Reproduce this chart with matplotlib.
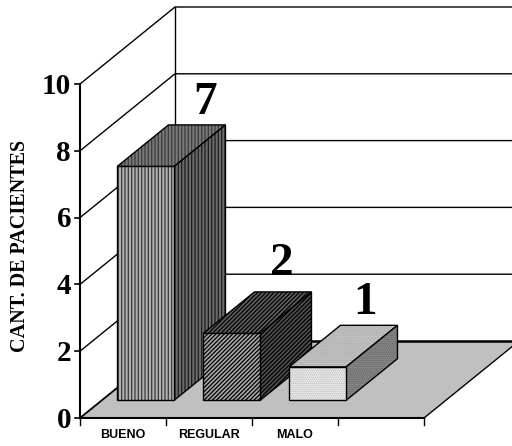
import matplotlib
matplotlib.use("Agg")
import matplotlib.pyplot as plt
from matplotlib.patches import Polygon

categories = ["BUENO", "REGULAR", "MALO", ""]
values = [7, 2, 1]
value_ticks = [0, 2, 4, 6, 8, 10]
y_title = "CANT. DE PACIENTES"

# one row per bar: front, top, side colours and hatch
face_colors = ["#b0b0b0", "#a8a8a8", "#ffffff"]
top_colors = ["#787878", "#606060", "#c8c8c8"]
side_colors = ["#6a6a6a", "#505050", "#909090"]
hatch_colors = ["#3c3c3c", "#000000", "#a8a8a8"]
side_hatch_colors = ["#1e1e1e", "#000000", "#606060"]
hatches = ["|||||", "////////", "........"]
label_x = [1.46, 2.35, 3.32]  # value label position, category units
label_y = [9.42, 4.62, 3.44]

# 3d look: depth goes up and to the right
DX = 95 / 86
DY = 77 / 33.4
BAR_W = 0.663
BAR_GAP = 0.178
D0, D1 = 0.23, 0.77


def proj(x, v, d):
    return (x + d * DX, v + d * DY)


def poly(ax, pts, fc, z, hatch=None, ec="black", lw=1.0):
    ax.add_patch(Polygon(pts, closed=True, facecolor=fc, edgecolor="none", zorder=z))
    if hatch:
        ax.add_patch(Polygon(pts, closed=True, facecolor="none", edgecolor=hatch[1],
                             hatch=hatch[0], linewidth=0, zorder=z))
    ax.add_patch(Polygon(pts, closed=True, facecolor="none", edgecolor=ec, linewidth=lw, zorder=z))


plt.rcParams["hatch.linewidth"] = 0.9
fig = plt.figure(figsize=(5.12, 4.46), dpi=100)
ax = fig.add_axes([0, 0, 1, 1])
ax.set_xlim(-80 / 86, (512 - 80) / 86)
ax.set_ylim(-(446 - 418) / 33.4, 418 / 33.4)
ax.axis("off")

n = len(categories)
top = value_ticks[-1]

# floor
poly(ax, [proj(0, 0, 0), proj(n, 0, 0), proj(n, 0, 1), proj(0, 0, 1)], "#c0c0c0", 1, ec="none", lw=0)
ax.plot(*zip(proj(n, 0, 0), proj(n, 0, 1)), color="black", lw=1.0, zorder=2)
ax.plot(*zip(proj(0, 0, 1), proj(n, 0, 1)), color="black", lw=1.8, zorder=2)
ax.plot(*zip(proj(0, 0, 0), proj(0, 0, 1)), color="black", lw=1.3, zorder=2)

# walls and grid
for v in value_ticks[1:]:
    ax.plot(*zip(proj(0, v, 0), proj(0, v, 1), proj(n, v, 1)), color="black", lw=1.0, zorder=2)
ax.plot(*zip(proj(0, 0, 1), proj(0, top, 1)), color="black", lw=1.0, zorder=2)

# front axes
ax.plot([0, 0], [0, top], color="black", lw=1.5, zorder=6)
ax.plot([0, n], [0, 0], color="black", lw=1.5, zorder=6)
for v in value_ticks:
    ax.plot([-5 / 86, 0], [v, v], color="black", lw=1.2, zorder=6)
    ax.text(-9 / 86, v - 0.07, str(v), ha="right", va="center", family="Liberation Serif",
            fontweight="bold", fontsize=21, zorder=6)
for i in range(n + 1):
    ax.plot([i, i], [0, -7 / 33.4], color="black", lw=1.0, zorder=6)
for i, c in enumerate(categories):
    ax.text(i + 0.5, -0.52, c, ha="center", va="center", family="Liberation Sans",
            fontweight="bold", fontsize=9, zorder=6)
ax.text(-60 / 86, 5.15, y_title, rotation=90, ha="center", va="center",
        family="Liberation Serif", fontweight="bold", fontsize=14.5)

# bars
for i, v in enumerate(values):
    x0 = i + BAR_GAP
    x1 = x0 + BAR_W
    z = 10 + i
    hc = hatch_colors[i]
    poly(ax, [proj(x0, v, D0), proj(x1, v, D0), proj(x1, v, D1), proj(x0, v, D1)],
         top_colors[i], z, (hatches[i], hc))
    poly(ax, [proj(x1, 0, D0), proj(x1, 0, D1), proj(x1, v, D1), proj(x1, v, D0)],
         side_colors[i], z, (hatches[i], side_hatch_colors[i]))
    poly(ax, [proj(x0, 0, D0), proj(x1, 0, D0), proj(x1, v, D0), proj(x0, v, D0)],
         face_colors[i], z, (hatches[i], hc))
    ax.text(label_x[i], label_y[i], str(v), ha="center", va="center",
            family="Liberation Serif", fontweight="bold", fontsize=34, zorder=20)

fig.savefig("out.png", dpi=100)
